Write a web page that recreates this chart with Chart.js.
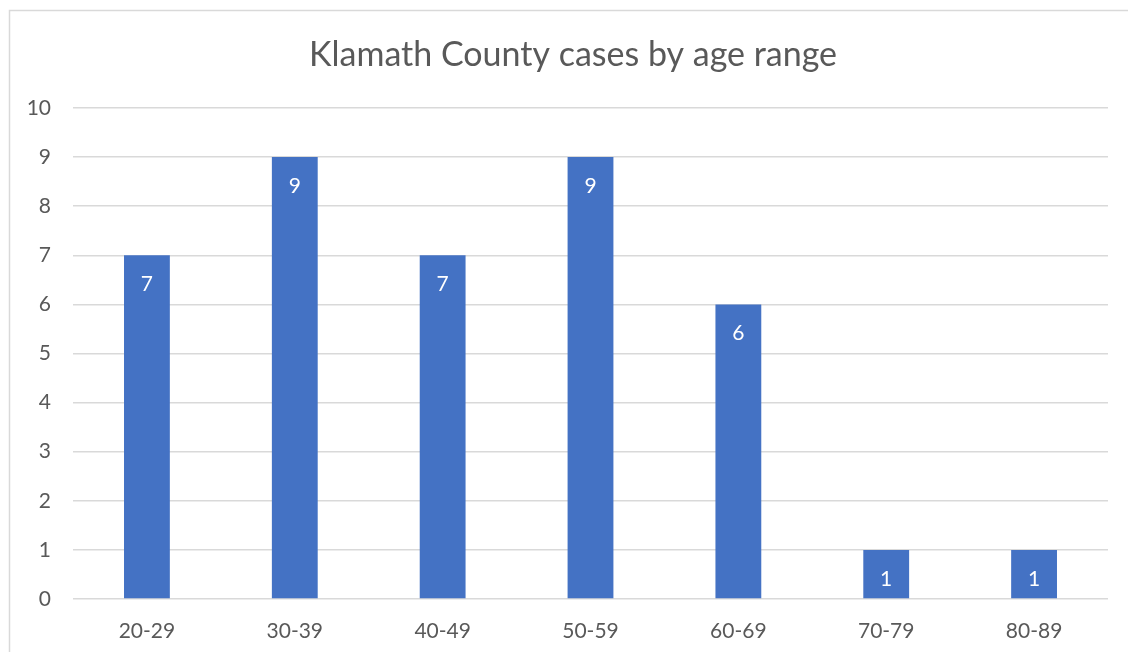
<!DOCTYPE html>
<html>
<head>
<meta charset="utf-8">
<script src="https://cdn.jsdelivr.net/npm/chart.js@4.4.0/dist/chart.umd.min.js"></script>
<style>
    html, body { margin: 0; padding: 0; background: #ffffff; }
    #wrap { width: 1128px; height: 652px; }
</style>
</head>
<body>
<div id="wrap"><canvas id="ageChart" width="1128" height="652"></canvas></div>
<script>
const ageRanges = ['20-29', '30-39', '40-49', '50-59', '60-69', '70-79', '80-89'];
const caseCounts = [7, 9, 7, 9, 6, 1, 1];
const yTicks = [0, 1, 2, 3, 4, 5, 6, 7, 8, 9, 10];
const chartTitle = 'Klamath County cases by age range';

const textGray = '#595959';
const gridGray = '#d9d9d9';
const barBlue = '#4472c4';

// outline round the chart (only left and top fall inside the picture) and the title
const frameAndTitle = {
    id: 'frameAndTitle',
    beforeDraw(chart) {
        const ctx = chart.ctx;
        ctx.save();
        ctx.strokeStyle = gridGray;
        ctx.lineWidth = 1.5;
        ctx.strokeRect(9.5, 10.5, chart.width + 20, chart.height + 20);

        ctx.fillStyle = textGray;
        ctx.font = '34px Lato';
        ctx.textAlign = 'center';
        ctx.textBaseline = 'middle';
        ctx.fillText(chartTitle, 573, 55);
        ctx.restore();
    }
};

// value labels inside the top of each bar
const barLabels = {
    id: 'barLabels',
    afterDatasetsDraw(chart) {
        const ctx = chart.ctx;
        const meta = chart.getDatasetMeta(0);
        ctx.save();
        ctx.fillStyle = '#ffffff';
        ctx.font = '21px Lato';
        ctx.textAlign = 'center';
        ctx.textBaseline = 'middle';
        meta.data.forEach((bar, i) => {
            ctx.fillText(String(caseCounts[i]), bar.x, bar.y + 29);
        });
        ctx.restore();
    }
};

const ctx = document.getElementById('ageChart').getContext('2d');
new Chart(ctx, {
    type: 'bar',
    data: {
        labels: ageRanges,
        datasets: [{
            label: 'Cases',
            data: caseCounts,
            backgroundColor: barBlue,
            categoryPercentage: 1,
            barPercentage: 0.31
        }]
    },
    options: {
        responsive: false,
        animation: false,
        layout: {
            padding: { top: 108, left: 10, right: 20, bottom: 0 }
        },
        plugins: {
            legend: { display: false },
            tooltip: { enabled: false },
            title: { display: false }
        },
        scales: {
            x: {
                grid: { display: false, drawTicks: false },
                border: { display: false },
                ticks: {
                    color: textGray,
                    font: { family: 'Lato', size: 21 },
                    padding: 20
                },
                afterFit(scale) { scale.height = 53; }
            },
            y: {
                min: 0,
                max: 10,
                afterBuildTicks(scale) {
                    scale.ticks = yTicks.map(v => ({ value: v }));
                },
                grid: { color: gridGray, lineWidth: 1.5, drawTicks: false },
                border: { display: false },
                ticks: {
                    color: textGray,
                    font: { family: 'Lato', size: 21 },
                    padding: 22
                },
                afterFit(scale) { scale.width = 63; }
            }
        }
    },
    plugins: [frameAndTitle, barLabels]
});
</script>
</body>
</html>
